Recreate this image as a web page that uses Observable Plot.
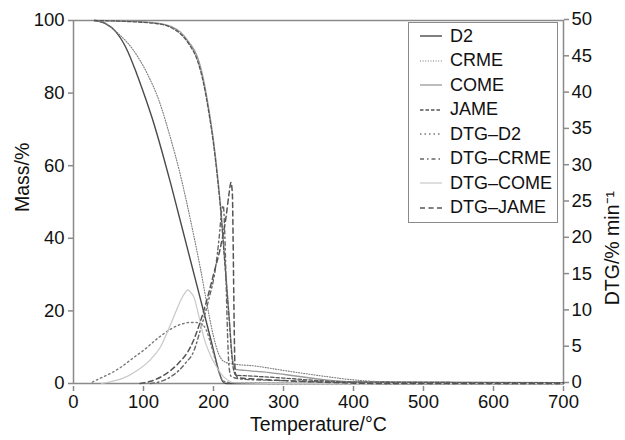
<!DOCTYPE html>
<html>
<head>
<meta charset="utf-8">
<script src="https://cdn.jsdelivr.net/npm/d3@7"></script>
<script src="https://cdn.jsdelivr.net/npm/@observablehq/plot@0.6"></script>
<style>
  html, body { margin: 0; padding: 0; background: #fff; }
  #wrap { position: relative; width: 625px; height: 440px; font-family: "Liberation Sans", Arial, sans-serif; }
  #legend { position: absolute; left: 408px; top: 22px; width: 150px; background: #fff; border: 1.5px solid #8a8a8a; box-sizing: border-box; padding: 1px 0 2px 0; }
  .row { display: flex; align-items: center; height: 24.5px; font-size: 18px; color: #111; white-space: nowrap; }
  .row svg { margin-left: 11px; margin-right: 8px; flex: none; }
</style>
</head>
<body>
<div id="wrap"></div>
<script>
// ---- mass curves (temperature °C, mass %) ----
const D2 = [[30,100],[45,99.2],[60,97],[75,92.5],[90,85.5],[103,78.5],[115,71.5],[127,63.5],[139,55],[151,46],[163,37],[175,28],[187,19],[197,11.5],[204,6],[209,2.5],[213,0.6],[218,0],[300,0],[700,0]];
const CRME = [[30,100],[45,99.3],[64,96.4],[86,91.7],[105,85.5],[122,78],[138,68],[152,58],[161,50.5],[171,41.5],[181,32],[191,21.5],[200,13],[207,8.3],[214,6.2],[224,5.5],[260,4.8],[300,3.6],[350,2.2],[400,1.0],[440,0.5],[500,0.35],[700,0.2]];
const COME = [[30,100],[80,99.8],[120,99.3],[140,98.3],[153,96.8],[165,94],[177,90],[186,83.5],[193,76],[200,67],[206,57],[211,47],[215,37],[219,27],[223,17],[226,9],[229,5],[233,3.8],[245,3.6],[280,3],[320,2],[360,1],[400,0.5],[700,0.2]];
const JAME = [[30,100],[80,99.7],[120,99.1],[140,98],[153,96.3],[165,93.5],[177,89],[186,82.5],[193,75],[200,66],[206,56],[211,46],[215,36],[219,26],[223,16],[226,8],[229,3.5],[232,2.3],[250,2.1],[300,1.5],[350,0.8],[400,0.4],[700,0.2]];
// ---- DTG curves (temperature °C, %/min) ----
const DTG_D2 = [[27,0.2],[40,0.8],[55,1.5],[67,2.2],[85,3.5],[103,4.8],[120,6.2],[139,7.5],[155,8.2],[165,8.4],[175,8.4],[183,8.2],[190,7.3],[196,5.5],[202,3.5],[207,1.8],[212,0.6],[218,0.2],[230,0.1],[300,0],[700,0]];
const DTG_CRME = [[110,0],[125,0.3],[140,1],[160,2.8],[172,4.5],[181,7.3],[193,11.5],[203,16],[208,20],[212,24],[214,24.5],[216,21],[218,14],[220,7],[222,2.5],[225,1],[240,0.6],[300,0.4],[350,0.3],[400,0.1],[450,0],[700,0]];
const DTG_COME = [[40,0],[55,0.3],[70,0.7],[91,1.8],[110,3.3],[124,5],[139,8.2],[148,10.3],[155,11.8],[160,12.6],[163,12.9],[167,12.6],[172,11.9],[179,9.3],[186,6.4],[195,4],[205,2.2],[212,1.2],[220,0.5],[230,0.1],[300,0],[700,0]];
const DTG_JAME = [[95,0],[110,0.3],[130,1.2],[150,2.8],[167,5],[186,10],[200,15],[212,19.7],[218,23],[222,26],[225,27.7],[227,26],[228,20],[229,12],[230,5],[231,1.5],[235,0.8],[260,0.6],[300,0.4],[350,0.2],[400,0.05],[450,0],[700,0]];

const xTicks = [0,100,200,300,400,500,600,700];
const massTicks = [0,20,40,60,80,100];
const dtgTicks = [0,5,10,15,20,25,30,35,40,45,50];

const seriesNames = ["D2","CRME","COME","JAME","DTG–D2","DTG–CRME","DTG–COME","DTG–JAME"];
const seriesData = [D2, CRME, COME, JAME, DTG_D2, DTG_CRME, DTG_COME, DTG_JAME];
const isDTG = [false,false,false,false,true,true,true,true];

const styles = [
  {stroke:"#4a4a4a", strokeWidth:1.4, dash:null},
  {stroke:"#777", strokeWidth:1.1, dash:"1,1.6"},
  {stroke:"#999", strokeWidth:1.3, dash:null},
  {stroke:"#555", strokeWidth:1.3, dash:"3.5,2"},
  {stroke:"#777", strokeWidth:1.4, dash:"1.5,3"},
  {stroke:"#666", strokeWidth:1.4, dash:"4,3,1.5,3"},
  {stroke:"#c8c8c8", strokeWidth:1.2, dash:null},
  {stroke:"#555", strokeWidth:1.5, dash:"5,3.5"}
];

const lineMarks = seriesData.map((s, i) => Plot.line(s, {
  x: d => d[0],
  y: d => isDTG[i] ? d[1] * 2 : d[1],
  stroke: styles[i].stroke,
  strokeWidth: styles[i].strokeWidth,
  strokeDasharray: styles[i].dash,
  curve: "monotone-x"
}));

const FS = 18.5;
const chart = Plot.plot({
  width: 625,
  height: 440,
  marginLeft: 73,
  marginRight: 62,
  marginTop: 20,
  marginBottom: 57,
  style: {fontFamily: "'Liberation Sans', Arial, sans-serif", fontSize: FS + "px", color: "#111", background: "#fff", overflow: "visible"},
  x: {domain: [0, 700]},
  y: {domain: [0, 100]},
  marks: [
    Plot.frame({stroke: "#8a8a8a", strokeWidth: 1.5}),
    Plot.axisX({ticks: xTicks, tickSize: 5, tickPadding: 3, dy: 3, stroke: "#8a8a8a", strokeWidth: 1.5, label: null, fontSize: FS}),
    Plot.axisY({ticks: massTicks, tickSize: 5, tickPadding: 4, stroke: "#8a8a8a", strokeWidth: 1.5, label: null, fontSize: FS}),
    Plot.axisY({anchor: "right", ticks: dtgTicks.map(d => d * 2), tickFormat: d => String(d / 2), tickSize: 5, tickPadding: 3, dy: -1, stroke: "#8a8a8a", strokeWidth: 1.5, label: null, fontSize: FS}),
    ...lineMarks,
    Plot.text(["Temperature/°C"], {frameAnchor: "bottom", dy: 47, fontSize: 19.5, fill: "#111"}),
    Plot.text(["Mass/%"], {frameAnchor: "left", dx: -51, dy: 10, rotate: -90, fontSize: 19.5, fill: "#111"}),
    Plot.text(["DTG/% min⁻¹"], {frameAnchor: "right", dx: 49, dy: -11, rotate: -90, fontSize: 19.5, fill: "#111"})
  ]
});

const wrap = document.getElementById("wrap");
wrap.appendChild(chart);

const legend = document.createElement("div");
legend.id = "legend";
seriesNames.forEach((name, i) => {
  const row = document.createElement("div");
  row.className = "row";
  const st = styles[i];
  row.innerHTML = `<svg width="22" height="10"><line x1="0" y1="5" x2="22" y2="5" stroke="${st.stroke}" stroke-width="${st.strokeWidth}" ${st.dash ? `stroke-dasharray="${st.dash}"` : ""}/></svg><span>${name}</span>`;
  legend.appendChild(row);
});
wrap.appendChild(legend);
</script>
</body>
</html>
